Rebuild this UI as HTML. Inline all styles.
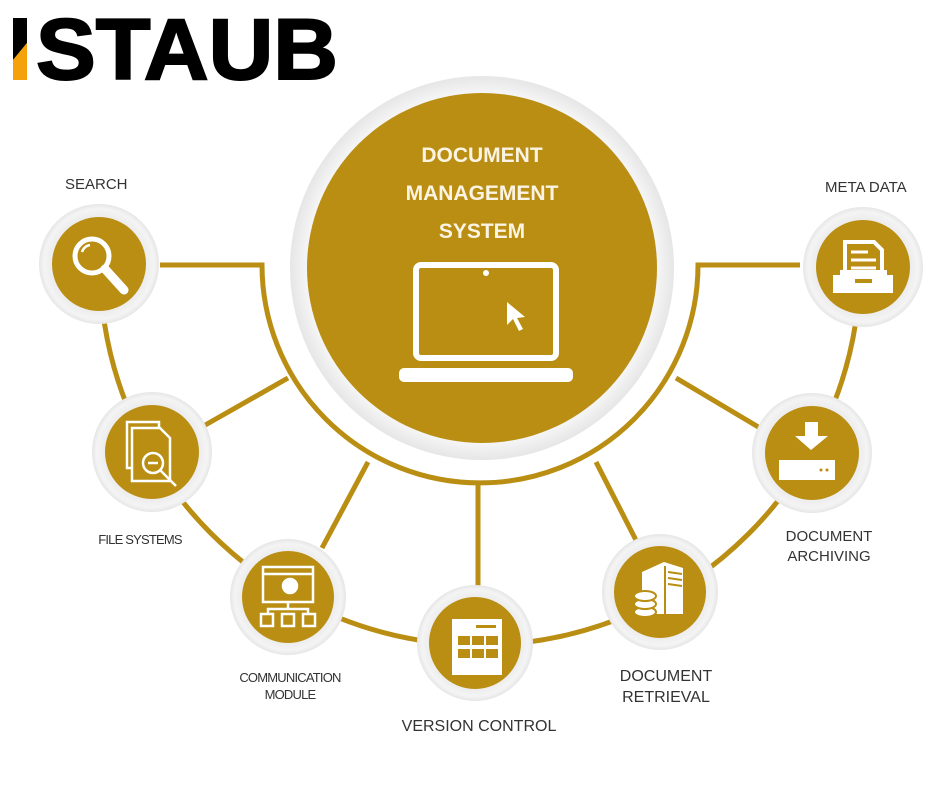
<!DOCTYPE html>
<html><head><meta charset="utf-8"><style>
html,body{margin:0;padding:0;background:#fff;width:940px;height:788px;overflow:hidden}
svg{display:block}
text{font-family:"Liberation Sans",sans-serif}
</style></head><body>
<svg width="940" height="788" viewBox="0 0 940 788" xmlns="http://www.w3.org/2000/svg">
<defs>
<radialGradient id="rg" cx="50%" cy="50%" r="50%">
<stop offset="78%" stop-color="#ececec"/><stop offset="92%" stop-color="#f4f4f4"/><stop offset="100%" stop-color="#e6e6e6"/>
</radialGradient>
</defs>
<!-- logo -->
<polygon points="13,18 27,18 27,43 13,60" fill="#000"/>
<polygon points="13,60 27,43 27,80 13,80" fill="#f5a20a"/>
<text x="36" y="79" font-size="86" font-weight="bold" fill="#000" stroke="#000" stroke-width="2" textLength="302" lengthAdjust="spacingAndGlyphs">STAUB</text>

<g fill="none" stroke="#b98e12" stroke-width="5">
<path d="M100,265 A380,380 0 0 0 860,265"/>
<path d="M160,265 H262 A218,218 0 0 0 698,265 H800"/>
<line x1="200" y1="428" x2="288" y2="378"/>
<line x1="322" y1="548" x2="368" y2="462"/>
<line x1="478" y1="483" x2="478" y2="590"/>
<line x1="640" y1="548" x2="596" y2="462"/>
<line x1="760" y1="428" x2="676" y2="378"/>
</g>

<!-- center -->
<circle cx="482" cy="268" r="192" fill="url(#rg)"/>
<circle cx="482" cy="268" r="175" fill="#b98e12"/>
<g fill="#fbf4e4" font-weight="bold" font-size="21" text-anchor="middle">
<text x="482" y="162">DOCUMENT</text>
<text x="482" y="200">MANAGEMENT</text>
<text x="482" y="238">SYSTEM</text>
</g>
<rect x="416" y="265" width="140" height="93" rx="5" fill="none" stroke="#fff" stroke-width="6"/>
<circle cx="486" cy="273" r="3" fill="#fff"/>
<rect x="399" y="368" width="174" height="14" rx="5" fill="#fff"/>
<path d="M507,302 L507,325 L513,319 L519,331 L523,329 L517,318 L525,317 Z" fill="#fff"/>

<!-- nodes -->
<g>
<circle cx="99" cy="264" r="60" fill="url(#rg)"/><circle cx="99" cy="264" r="47" fill="#b98e12"/>
<circle cx="152" cy="452" r="60" fill="url(#rg)"/><circle cx="152" cy="452" r="47" fill="#b98e12"/>
<circle cx="288" cy="597" r="58" fill="url(#rg)"/><circle cx="288" cy="597" r="46" fill="#b98e12"/>
<circle cx="475" cy="643" r="58" fill="url(#rg)"/><circle cx="475" cy="643" r="46" fill="#b98e12"/>
<circle cx="660" cy="592" r="58" fill="url(#rg)"/><circle cx="660" cy="592" r="46" fill="#b98e12"/>
<circle cx="812" cy="453" r="60" fill="url(#rg)"/><circle cx="812" cy="453" r="47" fill="#b98e12"/>
<circle cx="863" cy="267" r="60" fill="url(#rg)"/><circle cx="863" cy="267" r="47" fill="#b98e12"/>
</g>

<!-- icons -->
<g stroke="#fff" fill="none">
<circle cx="92" cy="256" r="17" stroke-width="5"/>
<path d="M82,252 A10,10 0 0 1 90,245" stroke-width="2.5"/>
<line x1="105" y1="269" x2="124" y2="290" stroke-width="9" stroke-linecap="round"/>
<g stroke-width="2.5">
<rect x="127" y="422" width="32" height="46"/>
<path d="M132,428 H160 L170,438 V481 H132 Z" fill="#b98e12"/>
<circle cx="153" cy="463" r="10"/>
<line x1="148" y1="463" x2="158" y2="463"/>
<line x1="160" y1="470" x2="176" y2="486"/>
</g>
<g stroke-width="2.5">
<rect x="263" y="567" width="50" height="35"/>
<line x1="263" y1="574" x2="313" y2="574"/>
<circle cx="290" cy="586" r="7" fill="#fff"/>
<line x1="288" y1="602" x2="288" y2="609"/>
<path d="M268,614 V609 H308 V614"/>
<rect x="261" y="614" width="12" height="12"/><rect x="282" y="614" width="12" height="12"/><rect x="303" y="614" width="12" height="12"/>
</g>
</g>
<rect x="452" y="619" width="50" height="56" fill="#fff"/>
<g fill="#b98e12">
<rect x="458" y="636" width="12" height="9"/><rect x="472" y="636" width="12" height="9"/><rect x="486" y="636" width="12" height="9"/>
<rect x="458" y="649" width="12" height="9"/><rect x="472" y="649" width="12" height="9"/><rect x="486" y="649" width="12" height="9"/>
<rect x="476" y="625" width="20" height="3"/>
</g>
<path d="M642,572 L664,562 L683,568 V614 H642 Z" fill="#fff"/>
<g stroke="#b98e12" stroke-width="2"><line x1="668" y1="572" x2="682" y2="574"/><line x1="668" y1="578" x2="682" y2="580"/><line x1="668" y1="584" x2="682" y2="586"/><line x1="665" y1="566" x2="665" y2="614"/></g>
<g fill="#fff" stroke="#b98e12" stroke-width="2">
<ellipse cx="645" cy="612" rx="11" ry="5"/><ellipse cx="645" cy="604" rx="11" ry="5"/><ellipse cx="645" cy="596" rx="11" ry="5"/>
</g>
<path d="M805,422 H818 V436 H828 L811,450 L795,436 H805 Z" fill="#fff"/>
<rect x="779" y="460" width="56" height="20" fill="#fff"/>
<circle cx="821" cy="470" r="1.5" fill="#b98e12"/><circle cx="827" cy="470" r="1.5" fill="#b98e12"/>
<path d="M845,242 H874 L882,250 V275 H845 Z" fill="none" stroke="#fff" stroke-width="4"/>
<g stroke="#fff" stroke-width="3"><line x1="851" y1="252" x2="868" y2="252"/><line x1="851" y1="260" x2="876" y2="260"/><line x1="851" y1="268" x2="876" y2="268"/></g>
<path d="M833,275 H893 V293 H833 Z" fill="#fff"/>
<path d="M840,270 H887 V275 H840 Z" fill="#fff"/>
<rect x="855" y="279" width="17" height="4" fill="#b98e12"/>

<!-- labels -->
<g fill="#333" font-size="15">
<text x="65" y="189">SEARCH</text>
<text x="825" y="192">META DATA</text>
<text x="140" y="544" font-size="13" text-anchor="middle" letter-spacing="-0.8">FILE SYSTEMS</text>
<text x="829" y="541" text-anchor="middle">DOCUMENT</text>
<text x="829" y="561" text-anchor="middle">ARCHIVING</text>
<text x="290" y="682" font-size="13" text-anchor="middle" letter-spacing="-0.8">COMMUNICATION</text>
<text x="290" y="699" font-size="13" text-anchor="middle" letter-spacing="-0.8">MODULE</text>
<text x="479" y="731" font-size="16" text-anchor="middle">VERSION CONTROL</text>
<text x="666" y="681" font-size="16" text-anchor="middle">DOCUMENT</text>
<text x="666" y="702" font-size="16" text-anchor="middle">RETRIEVAL</text>
</g>
</svg>
</body></html>
